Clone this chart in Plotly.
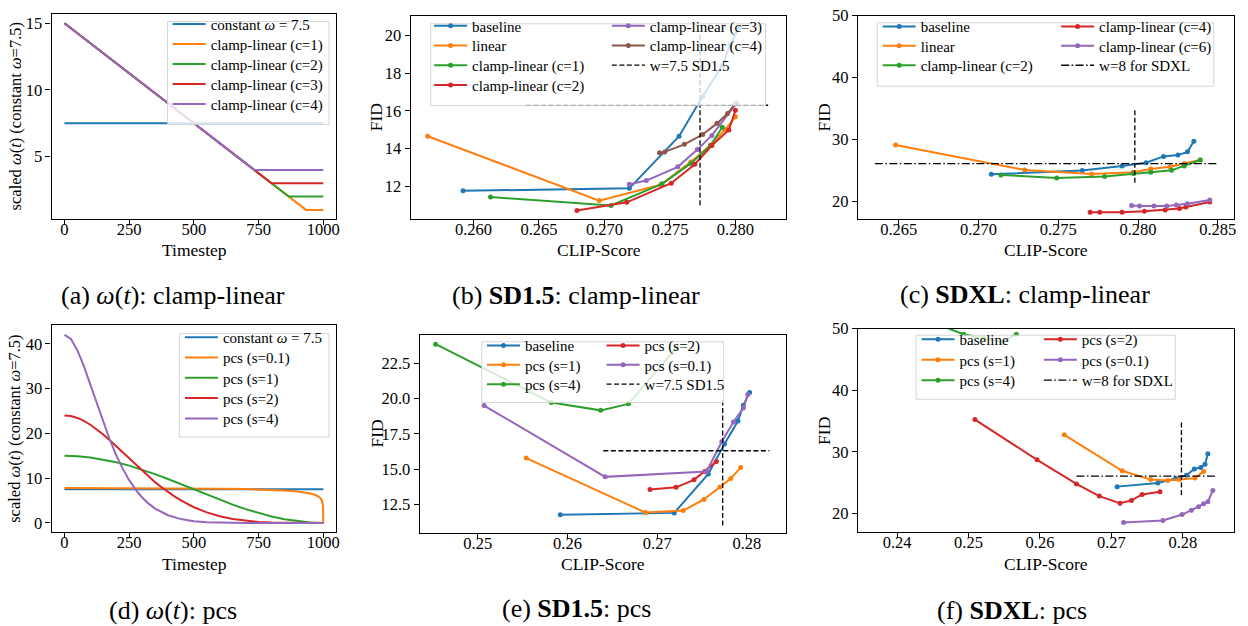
import plotly.graph_objects as go

W, H = 1248, 626
FONT = "Liberation Serif"
BLUE, ORANGE, GREEN, RED, PURPLE, BROWN = "#1f77b4", "#ff7f0e", "#2ca02c", "#d62728", "#9467bd", "#8c564b"

# ---------------- data ----------------
# (a) clamp-linear guidance schedules (breakpoints)
a_const_t = [0, 1000]
a_const_w = [7.5, 7.5]
a_c1_t = [0, 933.3, 1000]
a_c1_w = [15, 1, 1]
a_c2_t = [0, 866.7, 1000]
a_c2_w = [15, 2, 2]
a_c3_t = [0, 800, 1000]
a_c3_w = [15, 3, 3]
a_c4_t = [0, 733.3, 1000]
a_c4_w = [15, 4, 4]

# (d) pcs guidance schedules
d_const_t = [0, 1000]
d_const_w = [7.5, 7.5]
d_s01_t = [0, 100, 300, 500, 600, 700, 800, 850, 900, 950, 970, 980, 990, 995, 999, 1000]
d_s01_w = [7.8, 7.8, 7.78, 7.72, 7.65, 7.56, 7.38, 7.24, 7.02, 6.58, 6.23, 5.95, 5.46, 4.97, 3.91, 0.0]
d_s1_t = [0, 50, 100, 150, 200, 250, 300, 350, 400, 450, 500, 550, 600, 650, 700, 750, 800, 850, 900, 950, 1000]
d_s1_w = [15.0, 14.91, 14.63, 14.18, 13.57, 12.80, 11.91, 10.90, 9.82, 8.67, 7.5, 6.33, 5.18, 4.10, 3.09,
          2.20, 1.43, 0.82, 0.37, 0.09, 0.0]
d_s2_t = [0, 25, 50, 75, 100, 125, 150, 175, 200, 225, 250, 275, 300, 325, 350, 375, 400, 425, 450, 475,
          500, 550, 600, 650, 700, 750, 800, 850, 900, 950, 1000]
d_s2_w = [24.0, 23.86, 23.44, 22.79, 21.92, 20.90, 19.73, 18.44, 17.11, 15.73, 14.34, 12.97, 11.62, 10.33,
          9.11, 7.96, 6.89, 5.92, 5.03, 4.23, 3.51, 2.35, 1.49, 0.88, 0.48, 0.23, 0.09, 0.03, 0.01, 0.0, 0.0]
d_s4_t = [0, 25, 50, 75, 100, 125, 150, 175, 200, 225, 250, 275, 300, 325, 350, 400, 450, 500, 550, 600,
          650, 700, 800, 1000]
d_s4_w = [42.0, 41.06, 38.53, 34.99, 30.89, 26.62, 22.45, 18.58, 15.12, 12.12, 9.55, 7.43, 5.69, 4.31,
          3.21, 1.72, 0.86, 0.40, 0.17, 0.07, 0.02, 0.0, 0.0, 0.0]

# SD1.5 baseline and reference (w=7.5)
sd15_base_x = [0.2592, 0.2719, 0.2757, 0.2775, 0.2790, 0.2796, 0.2803]
sd15_base_y = [11.77, 11.90, 14.66, 16.77, 18.40, 19.52, 20.43]
sd15_ref_x = 0.2773
sd15_ref_y = 16.3
sd15_vline_y = [11.0, 20.0]
sd15_hline_x = [0.2640, 0.2825]

# (b) SD1.5 clamp-linear
b_linear_x = [0.2565, 0.2696, 0.2743, 0.2766, 0.2781, 0.2792, 0.2800]
b_linear_y = [14.66, 11.25, 12.09, 13.30, 14.20, 15.00, 15.69]
b_c1_x = [0.2613, 0.2705, 0.2744, 0.2766, 0.2781, 0.2790]
b_c1_y = [11.44, 10.99, 12.14, 13.22, 14.17, 15.13]
b_c2_x = [0.2679, 0.2717, 0.2751, 0.2769, 0.2782, 0.2795, 0.2800]
b_c2_y = [10.73, 11.16, 12.17, 13.18, 14.17, 14.99, 16.03]
b_c3_x = [0.2719, 0.2732, 0.2756, 0.2771, 0.2782, 0.2801]
b_c3_y = [12.12, 12.31, 13.04, 13.95, 14.70, 16.43]
b_c4_x = [0.2742, 0.2746, 0.2761, 0.2775, 0.2786, 0.2794, 0.2800]
b_c4_y = [13.79, 13.83, 14.23, 14.75, 15.34, 15.86, 16.38]

# SDXL baseline and reference (w=8)
sdxl_base_x = [0.2708, 0.2765, 0.2790, 0.2805, 0.2816, 0.2825, 0.2831, 0.2835]
sdxl_base_y = [24.37, 24.96, 25.70, 26.23, 27.25, 27.46, 27.99, 29.70]
sdxl_ref_x = 0.2798
sdxl_ref_y = 26.07
sdxl_vline_y = [23.0, 35.0]
c_hline_x = [0.2635, 0.2850]
f_hline_x = [0.2651, 0.2847]

# (c) SDXL clamp-linear
c_linear_x = [0.2648, 0.2729, 0.2771, 0.2797, 0.2808, 0.2820, 0.2829, 0.2839]
c_linear_y = [29.11, 25.06, 24.42, 24.69, 25.20, 25.59, 26.10, 26.66]
c_c2_x = [0.2714, 0.2749, 0.2779, 0.2797, 0.2808, 0.2821, 0.2829, 0.2839]
c_c2_y = [24.26, 23.78, 24.00, 24.50, 24.69, 25.00, 25.70, 26.66]
c_c4_x = [0.2770, 0.2776, 0.2790, 0.2804, 0.2817, 0.2826, 0.2830, 0.2845]
c_c4_y = [18.24, 18.24, 18.24, 18.40, 18.61, 18.83, 19.09, 19.89]
c_c6_x = [0.2796, 0.2801, 0.2810, 0.2818, 0.2824, 0.2831, 0.2845]
c_c6_y = [19.31, 19.22, 19.22, 19.25, 19.41, 19.60, 20.22]

# (e) SD1.5 pcs
e_s1_x = [0.2554, 0.2687, 0.2729, 0.2752, 0.2770, 0.2782, 0.2793]
e_s1_y = [15.78, 11.92, 12.06, 12.85, 13.74, 14.34, 15.11]
e_s4_x = [0.2453, 0.2582, 0.2637, 0.2668, 0.2721]
e_s4_y = [23.85, 19.71, 19.16, 19.62, 23.57]
e_s2_x = [0.2692, 0.2721, 0.2741, 0.2753, 0.2766]
e_s2_y = [13.55, 13.71, 14.24, 14.83, 15.53]
e_s01_x = [0.2507, 0.2642, 0.2755, 0.2772, 0.2785, 0.2796, 0.2801]
e_s01_y = [19.50, 14.45, 14.83, 16.94, 18.34, 19.32, 20.29]

# (f) SDXL pcs
f_s1_x = [0.2634, 0.2715, 0.2755, 0.2779, 0.2795, 0.2817, 0.2829]
f_s1_y = [32.78, 26.95, 25.51, 25.35, 25.51, 25.78, 26.84]
f_s4_x = [0.2400, 0.2493, 0.2521, 0.2547, 0.2567]
f_s4_y = [53.2, 49.1, 48.45, 47.8, 49.1]
f_s2_x = [0.2509, 0.2596, 0.2651, 0.2683, 0.2712, 0.2728, 0.2743, 0.2768]
f_s2_y = [35.24, 28.72, 24.81, 22.83, 21.66, 22.14, 23.10, 23.53]
f_s01_x = [0.2717, 0.2772, 0.2799, 0.2812, 0.2822, 0.2829, 0.2835, 0.2842]
f_s01_y = [18.56, 18.88, 19.84, 20.53, 21.12, 21.60, 21.93, 23.74]

# tick labels
t_ticks = [0, 250, 500, 750, 1000]
a_yticks = [5, 10, 15]
d_yticks = [0, 10, 20, 30, 40]
b_xticks = [0.260, 0.265, 0.270, 0.275, 0.280]
b_xtext = ["0.260", "0.265", "0.270", "0.275", "0.280"]
b_yticks = [12, 14, 16, 18, 20]
c_xticks = [0.265, 0.270, 0.275, 0.280, 0.285]
c_xtext = ["0.265", "0.270", "0.275", "0.280", "0.285"]
fid_xl_ticks = [20, 30, 40, 50]
e_xticks = [0.25, 0.26, 0.27, 0.28]
e_xtext = ["0.25", "0.26", "0.27", "0.28"]
e_yticks = [12.5, 15.0, 17.5, 20.0, 22.5]
e_ytext = ["12.5", "15.0", "17.5", "20.0", "22.5"]
f_xticks = [0.24, 0.25, 0.26, 0.27, 0.28]
f_xtext = ["0.24", "0.25", "0.26", "0.27", "0.28"]

# ---------------- layout helpers ----------------
# axes boxes in pixels: (left, right, top, bottom)
BOX = {1: (51.7, 337.3, 5, 213.3), 2: (412, 789, 7, 213), 3: (860.7, 1237.7, 6.7, 213.3),
       4: (51.7, 337.3, 321, 531), 5: (421, 789, 331, 532), 6: (860.7, 1237.7, 324.3, 531)}

def pxx(p):
    return p / W

def pxy(p):
    return 1 - p / H

# legend columns: (line start px, first row centre px, row pitch px)
COLS = {"a": (172.7, 23.3, 20.3), "b1": (435, 25, 20), "b2": (613.3, 25, 20),
        "c1": (885, 25.7, 19.7), "c2": (1064, 25.7, 19.7), "d": (185, 341, 20.6),
        "e1": (488, 349.3, 19.7), "e2": (608, 349.3, 19.7), "f1": (924, 343, 20.8),
        "f2": (1046.7, 343, 20.8)}
LEG_FONT = 15
LEG_OFF = 24.5
col_count = {k: 0 for k in COLS}
legends = {}

fig = go.Figure()
LW = 2.0
MS = 5

def add(i, xs, ys, color, name, col=None, markers=True, dash=None, width=LW):
    leg = "legend"
    show = col is not None
    if show:
        n = len(legends) + 1
        leg = "legend" if n == 1 else f"legend{n}"
        lx, ly, pitch = COLS[col]
        row = col_count[col]
        col_count[col] += 1
        cy = ly + row * pitch
        legends[leg] = dict(x=pxx(lx - 4.5), y=pxy(cy - LEG_OFF), xanchor="left", yanchor="top",
                            bgcolor="rgba(0,0,0,0)", borderwidth=0, itemwidth=33, tracegroupgap=0,
                            font=dict(family=FONT, size=LEG_FONT, color="black"))
    fig.add_trace(go.Scatter(
        x=xs, y=ys, name=name, mode="lines+markers" if markers else "lines",
        line=dict(color=color, width=width, dash=dash),
        marker=dict(size=MS, color=color),
        xaxis="x" if i == 1 else f"x{i}", yaxis="y" if i == 1 else f"y{i}",
        legend=leg, showlegend=show, hoverinfo="skip"))

DASH = "5px,2.5px"
DASHDOT = "8px,2.5px,1.5px,2.5px"

# (a)
add(1, a_const_t, a_const_w, BLUE, "constant <i>ω</i> = 7.5", "a", markers=False)
add(1, a_c1_t, a_c1_w, ORANGE, "clamp-linear (c=1)", "a", markers=False)
add(1, a_c2_t, a_c2_w, GREEN, "clamp-linear (c=2)", "a", markers=False)
add(1, a_c3_t, a_c3_w, RED, "clamp-linear (c=3)", "a", markers=False)
add(1, a_c4_t, a_c4_w, PURPLE, "clamp-linear (c=4)", "a", markers=False)

# (b)
add(2, sd15_base_x, sd15_base_y, BLUE, "baseline", "b1")
add(2, b_linear_x, b_linear_y, ORANGE, "linear", "b1")
add(2, b_c1_x, b_c1_y, GREEN, "clamp-linear (c=1)", "b1")
add(2, b_c2_x, b_c2_y, RED, "clamp-linear (c=2)", "b1")
add(2, b_c3_x, b_c3_y, PURPLE, "clamp-linear (c=3)", "b2")
add(2, b_c4_x, b_c4_y, BROWN, "clamp-linear (c=4)", "b2")
add(2, sd15_hline_x, [sd15_ref_y, sd15_ref_y], "black", "w=7.5 SD1.5", "b2", markers=False, dash=DASH, width=1.3)
add(2, [sd15_ref_x, sd15_ref_x], sd15_vline_y, "black", "", None, markers=False, dash=DASH, width=1.3)

# (c)
add(3, sdxl_base_x, sdxl_base_y, BLUE, "baseline", "c1")
add(3, c_linear_x, c_linear_y, ORANGE, "linear", "c1")
add(3, c_c2_x, c_c2_y, GREEN, "clamp-linear (c=2)", "c1")
add(3, c_c4_x, c_c4_y, RED, "clamp-linear (c=4)", "c2")
add(3, c_c6_x, c_c6_y, PURPLE, "clamp-linear (c=6)", "c2")
add(3, c_hline_x, [sdxl_ref_y, sdxl_ref_y], "black", "w=8 for SDXL", "c2", markers=False, dash=DASHDOT, width=1.3)
add(3, [sdxl_ref_x, sdxl_ref_x], sdxl_vline_y, "black", "", None, markers=False, dash=DASH, width=1.3)

# (d)
add(4, d_const_t, d_const_w, BLUE, "constant <i>ω</i> = 7.5", "d", markers=False)
add(4, d_s01_t, d_s01_w, ORANGE, "pcs (s=0.1)", "d", markers=False)
add(4, d_s1_t, d_s1_w, GREEN, "pcs (s=1)", "d", markers=False)
add(4, d_s2_t, d_s2_w, RED, "pcs (s=2)", "d", markers=False)
add(4, d_s4_t, d_s4_w, PURPLE, "pcs (s=4)", "d", markers=False)

# (e)
add(5, sd15_base_x, sd15_base_y, BLUE, "baseline", "e1")
add(5, e_s1_x, e_s1_y, ORANGE, "pcs (s=1)", "e1")
add(5, e_s4_x, e_s4_y, GREEN, "pcs (s=4)", "e1")
add(5, e_s2_x, e_s2_y, RED, "pcs (s=2)", "e2")
add(5, e_s01_x, e_s01_y, PURPLE, "pcs (s=0.1)", "e2")
add(5, sd15_hline_x, [sd15_ref_y, sd15_ref_y], "black", "w=7.5 SD1.5", "e2", markers=False, dash=DASH, width=1.3)
add(5, [sd15_ref_x, sd15_ref_x], sd15_vline_y, "black", "", None, markers=False, dash=DASH, width=1.3)

# (f)
add(6, sdxl_base_x, sdxl_base_y, BLUE, "baseline", "f1")
add(6, f_s1_x, f_s1_y, ORANGE, "pcs (s=1)", "f1")
add(6, f_s4_x, f_s4_y, GREEN, "pcs (s=4)", "f1")
add(6, f_s2_x, f_s2_y, RED, "pcs (s=2)", "f2")
add(6, f_s01_x, f_s01_y, PURPLE, "pcs (s=0.1)", "f2")
add(6, f_hline_x, [sdxl_ref_y, sdxl_ref_y], "black", "w=8 for SDXL", "f2", markers=False, dash=DASHDOT, width=1.3)
add(6, [sdxl_ref_x, sdxl_ref_x], sdxl_vline_y, "black", "", None, markers=False, dash=DASH, width=1.3)

# axes
RANGES = {1: ([-50, 1050], [0.3, 15.7]), 2: ([0.2552, 0.2839], [10.28, 21.03]),
          3: ([0.26244, 0.2860], [17.1, 50.0]), 4: ([-50, 1050], [-2.1, 44.1]),
          5: ([0.24352, 0.28441], [10.45, 24.48]), 6: ([0.23452, 0.28712], [16.95, 50.0])}
XT = {1: (t_ticks, [str(v) for v in t_ticks]), 2: (b_xticks, b_xtext), 3: (c_xticks, c_xtext),
      4: (t_ticks, [str(v) for v in t_ticks]), 5: (e_xticks, e_xtext), 6: (f_xticks, f_xtext)}
YT = {1: (a_yticks, [str(v) for v in a_yticks]), 2: (b_yticks, [str(v) for v in b_yticks]),
      3: (fid_xl_ticks, [str(v) for v in fid_xl_ticks]), 4: (d_yticks, [str(v) for v in d_yticks]),
      5: (e_yticks, e_ytext), 6: (fid_xl_ticks, [str(v) for v in fid_xl_ticks])}

TICKFONT = dict(family=FONT, size=16.5, color="black")
layout = dict(width=W, height=H, autosize=False, margin=dict(l=0, r=0, t=0, b=0, pad=0),
              paper_bgcolor="white", plot_bgcolor="white", font=dict(family=FONT, color="black"))
for i in range(1, 7):
    l, r, t, b = BOX[i]
    xr, yr = RANGES[i]
    common = dict(showline=True, mirror=True, linecolor="black", linewidth=1.2, ticks="outside",
                  ticklen=5, tickwidth=1, tickcolor="black", showgrid=False, zeroline=False,
                  tickfont=TICKFONT)
    sx = "" if i == 1 else str(i)
    layout["xaxis" + sx] = dict(domain=[pxx(l), pxx(r)], range=xr, anchor="y" + sx,
                                tickvals=XT[i][0], ticktext=XT[i][1], ticklabelstandoff=-10, **common)
    layout["yaxis" + sx] = dict(domain=[pxy(b), pxy(t)], range=yr, anchor="x" + sx,
                                tickvals=YT[i][0], ticktext=YT[i][1], **common)
layout.update(legends)

# legend frames (semi-transparent, drawn above the data)
FRAMES = [(168, 330, 12.7, 117.3), (432, 768, 15, 98), (880, 1217.7, 14, 78.3),
          (180, 330, 329.3, 434.3), (483.3, 726, 337.7, 399.3), (919, 1179, 331, 396)]
shapes = []
for (l, r, t, b) in FRAMES:
    shapes.append(dict(type="rect", xref="paper", yref="paper", x0=pxx(l), x1=pxx(r),
                       y0=pxy(b), y1=pxy(t), layer="above",
                       fillcolor="rgba(255,255,255,0.8)", line=dict(color="rgba(204,204,204,0.8)", width=1)))
layout["shapes"] = shapes

# text: axis titles and captions
ann = []
def text(s, x, y, size, angle=0):
    ann.append(dict(text=s, x=pxx(x), y=pxy(y), xref="paper", yref="paper", showarrow=False,
                    xanchor="center", yanchor="middle", textangle=angle,
                    font=dict(family=FONT, size=size, color="black")))

YL = "scaled <i>ω</i>(<i>t</i>) (constant <i>ω</i>=7.5)"
text("Timestep", 195, 245, 17.5)
text(YL, 15, 109, 16.5, -90)
text("CLIP-Score", 600.5, 245, 17.5)
text("FID", 378, 110, 17.5, -90)
text("CLIP-Score", 1049, 245, 17.5)
text("FID", 826.7, 110, 17.5, -90)
text("Timestep", 195, 563, 17.5)
text(YL, 15, 426, 16.5, -90)
text("CLIP-Score", 605, 563, 17.5)
text("FID", 378, 431, 17.5, -90)
text("CLIP-Score", 1049, 563, 17.5)
text("FID", 826.7, 428, 17.5, -90)

text("(a) <i>ω</i>(<i>t</i>): clamp-linear", 174, 291, 26)
text("(b) <b>SD1.5</b>: clamp-linear", 578, 291, 26)
text("(c) <b>SDXL</b>: clamp-linear", 1028, 290, 26)
text("(d) <i>ω</i>(<i>t</i>): pcs", 174, 610, 26)
text("(e) <b>SD1.5</b>: pcs", 579, 608, 26)
text("(f) <b>SDXL</b>: pcs", 1015, 610, 26)
layout["annotations"] = ann

fig.update_layout(**layout)
fig.write_html("out.html", config={"displayModeBar": False},
               post_script="document.body.style.margin='0';document.body.style.overflow='hidden';")
